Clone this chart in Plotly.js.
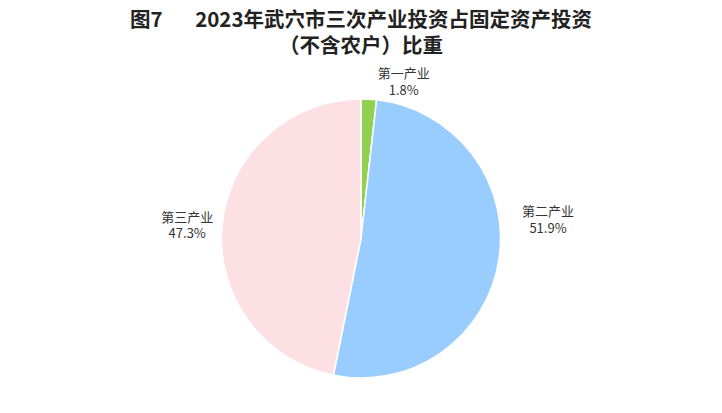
<!DOCTYPE html>
<html><head><meta charset="utf-8">
<script src="https://cdn.plot.ly/plotly-3.0.1.min.js"></script>
<style>html,body{margin:0;padding:0;background:#fff;}#chart{width:722px;height:413px;}</style>
</head><body><div id="chart"></div>
<script>
const categories = ['第一产业', '第二产业', '第三产业'];
const shares = [1.8, 51.9, 47.3];
const sliceColors = ['#92d050', '#99ccff', '#fde0e4'];

const labelFont = {family: 'Noto Sans CJK SC, sans-serif', size: 13, color: '#333333'};

const trace = {
  type: 'pie',
  labels: categories,
  values: shares,
  sort: false,
  direction: 'clockwise',
  rotation: 0,
  marker: {colors: sliceColors, line: {color: '#ffffff', width: 1.5}},
  textposition: ['outside', 'none', 'outside'],
  texttemplate: '%{label}<br>%{value:.1f}%',
  textfont: labelFont,
  hoverinfo: 'label+value',
  showlegend: false
};

const layout = {
  width: 722, height: 413,
  margin: {l: 0, r: 0, t: 99, b: 35},
  paper_bgcolor: '#ffffff',
  title: {
    text: '图7&nbsp;&nbsp;&nbsp;&nbsp;&nbsp;&nbsp;&nbsp;2023年武穴市三次产业投资占固定资产投资<br>（不含农户）比重',
    font: {family: 'Noto Sans CJK SC, sans-serif', size: 20.5, color: '#222222', weight: 'bold'},
    x: 0.5, xanchor: 'center', y: 0.935, yanchor: 'middle'
  },
  annotations: [{
    xref: 'paper', yref: 'paper', x: 0.759, y: 0.57,
    xanchor: 'center', yanchor: 'middle', showarrow: false,
    text: categories[1] + '<br>' + shares[1].toFixed(1) + '%',
    font: labelFont
  }]
};

Plotly.newPlot('chart', [trace], layout, {displayModeBar: false, staticPlot: true});
</script>
</body></html>
